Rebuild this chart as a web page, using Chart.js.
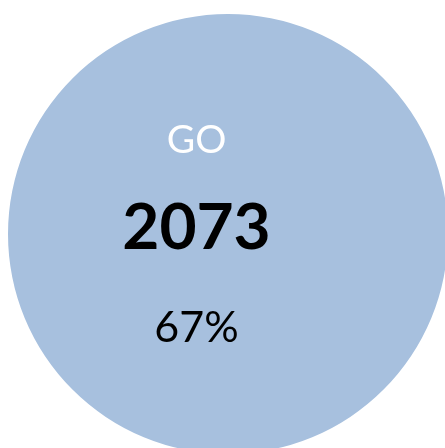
<!DOCTYPE html>
<html>
<head>
<meta charset="utf-8">
<script src="https://cdn.jsdelivr.net/npm/chart.js@4/dist/chart.umd.min.js"></script>
<style>
  html, body { margin: 0; padding: 0; background: #fff; overflow: hidden; width: 445px; height: 448px; }
  #chart { position: absolute; left: 8px; top: 14px; }
</style>
</head>
<body>
<canvas id="chart" width="440" height="440"></canvas>
<script>
const labels = ['GO'];
const values = [2073];
const shares = ['67%'];

const SLICE_COLOR = '#a7c0de';

// centre text: label, value, share
const centerText = {
  id: 'centerText',
  afterDraw(chart) {
    const ctx = chart.ctx;
    const x = 188.5;
    ctx.save();
    ctx.textAlign = 'center';
    ctx.textBaseline = 'alphabetic';

    ctx.fillStyle = '#ffffff';
    ctx.font = '39px Lato';
    ctx.fillText(labels[0], x, 139);

    ctx.fillStyle = '#000000';
    ctx.font = 'bold 64px Lato';
    ctx.fillText(String(values[0]), x, 235);

    ctx.font = '43px Lato';
    ctx.fillText(shares[0], x, 328);
    ctx.restore();
  }
};

new Chart(document.getElementById('chart'), {
  type: 'pie',
  data: {
    labels: labels,
    datasets: [{
      data: values,
      backgroundColor: [SLICE_COLOR],
      borderWidth: 0
    }]
  },
  options: {
    responsive: false,
    animation: false,
    layout: { padding: 0 },
    plugins: {
      legend: { display: false },
      tooltip: { enabled: false }
    }
  },
  plugins: [centerText]
});
</script>
</body>
</html>
